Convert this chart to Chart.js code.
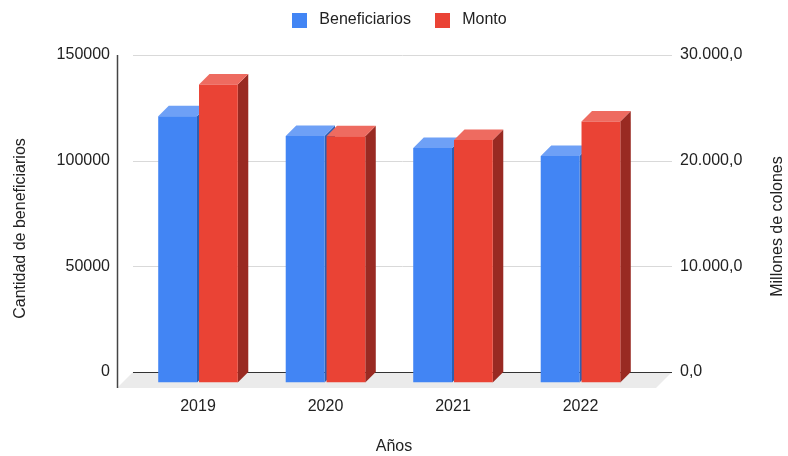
<!DOCTYPE html>
<html><head><meta charset="utf-8">
<script src="https://cdn.jsdelivr.net/npm/chart.js@4.4.1/dist/chart.umd.min.js"></script>
<style>html,body{margin:0;padding:0;background:#fff}#wrap{width:788px;height:456px;position:relative}</style>
</head><body><div id="wrap"><canvas id="c" width="788" height="456"></canvas></div>
<script>
// ---- data ----
const years = ['2019', '2020', '2021', '2022'];
const beneficiarios = [126000, 116600, 111000, 107200];
const monto = [28200, 23300, 22950, 24700];
const leftTicks = [0, 50000, 100000, 150000];
const rightTicks = [0, 10000, 20000, 30000];
const seriesNames = ['Beneficiarios', 'Monto'];
const xTitle = 'Años';
const leftTitle = 'Cantidad de beneficiarios';
const rightTitle = 'Millones de colones';

// ---- style ----
const FONT = 'Arial, "Liberation Sans", sans-serif';
const TXT = '#222222';
const frontColors = ['#4285f4', '#ea4335'];
const topColors = ['#6ea0f6', '#ee6b60'];
const sideColors = ['#2d5fb2', '#992a22'];
const DEPTH = 10.5, FLOOR = 16, WALL_L = 1.25, WALL_R = 27.75;
const LEGEND_PAD = 19.2;

function fmtES(v) {
  const s = Math.round(v).toString().replace(/\B(?=(\d{3})+(?!\d))/g, '.');
  return s + ',0';
}
function square(color) {
  const c = document.createElement('canvas');
  c.width = 15; c.height = 15;
  const g = c.getContext('2d');
  g.fillStyle = color; g.fillRect(0, 0, 15, 15);
  return c;
}
const legendSquares = frontColors.map(square);

Chart.defaults.font.family = FONT;
Chart.defaults.font.size = 16;
Chart.defaults.color = TXT;

function poly(ctx, pts) {
  ctx.beginPath();
  ctx.moveTo(pts[0][0], pts[0][1]);
  for (let i = 1; i < pts.length; i++) ctx.lineTo(pts[i][0], pts[i][1]);
  ctx.closePath();
  ctx.fill();
}
function hline(ctx, x0, x1, y, color, w) {
  ctx.strokeStyle = color; ctx.lineWidth = w;
  ctx.beginPath(); ctx.moveTo(x0, y); ctx.lineTo(x1, y); ctx.stroke();
}

const depthPlugin = {
  id: 'depth3d',
  afterLayout(chart) {
    const lg = chart.legend;
    const h = lg.bottom - lg.top;
    lg.top = 20 - LEGEND_PAD - 8; lg.bottom = lg.top + h;
    lg.left += 3; lg.right += 3;
  },
  beforeDatasetsDraw(chart) {
    const {ctx, chartArea: ca, scales} = chart;
    const ys = scales.y;
    const backL = ca.left - WALL_L, backR = ca.right + WALL_R;
    const zb = ys.getPixelForValue(0) - DEPTH;
    const topY = ys.getPixelForValue(ys.max) - DEPTH;
    ctx.save();
    leftTicks.forEach(v => {
      if (v === 0) return;
      const yy = Math.round(ys.getPixelForValue(v) - DEPTH) + 0.5;
      hline(ctx, backL, backR, yy, '#d9d9d9', 1);
    });
    ctx.fillStyle = '#ebebeb';
    poly(ctx, [[backL, zb], [backR, zb], [backR - FLOOR, zb + FLOOR], [backL - FLOOR, zb + FLOOR]]);
    hline(ctx, backL, backR, Math.round(zb) + 0.5, '#333333', 1.2);
    // left axis line
    ctx.strokeStyle = '#444444'; ctx.lineWidth = 1.5;
    ctx.beginPath();
    ctx.moveTo(backL - FLOOR + 0.5, topY); ctx.lineTo(backL - FLOOR + 0.5, zb + FLOOR);
    ctx.stroke();
    // side and top faces
    chart.data.datasets.forEach((ds, di) => {
      const meta = chart.getDatasetMeta(di);
      meta.data.forEach(el => {
        const {x, y, base, width} = el.getProps(['x', 'y', 'base', 'width'], true);
        const l = x - width / 2, r = x + width / 2;
        ctx.fillStyle = sideColors[di];
        poly(ctx, [[r, y], [r + DEPTH, y - DEPTH], [r + DEPTH, base - DEPTH], [r, base]]);
        ctx.fillStyle = topColors[di];
        poly(ctx, [[l, y], [l + DEPTH, y - DEPTH], [r + DEPTH, y - DEPTH], [r, y]]);
      });
    });
    ctx.restore();
  },
  afterDraw(chart) {
    const {ctx, chartArea: ca} = chart;
    ctx.save();
    ctx.fillStyle = TXT;
    ctx.font = '16px ' + FONT;
    ctx.textAlign = 'center';
    ctx.textBaseline = 'middle';
    const midY = (ca.top + ca.bottom) / 2;
    ctx.save(); ctx.translate(20.5, midY + 4.5); ctx.rotate(-Math.PI / 2); ctx.fillText(leftTitle, 0, 0); ctx.restore();
    ctx.save(); ctx.translate(777.5, midY + 2.5); ctx.rotate(-Math.PI / 2); ctx.fillText(rightTitle, 0, 0); ctx.restore();
    ctx.fillText(xTitle, chart.width / 2, 447);
    ctx.restore();
  }
};

new Chart(document.getElementById('c'), {
  type: 'bar',
  data: {
    labels: years,
    datasets: [
      {label: seriesNames[0], data: beneficiarios, backgroundColor: frontColors[0], yAxisID: 'y', categoryPercentage: 0.64, barPercentage: 0.95},
      {label: seriesNames[1], data: monto, backgroundColor: frontColors[1], yAxisID: 'y1', categoryPercentage: 0.64, barPercentage: 0.95}
    ]
  },
  options: {
    responsive: false,
    animation: false,
    layout: {padding: 0},
    plugins: {
      tooltip: {enabled: false},
      legend: {
        position: 'top',
        labels: {
          usePointStyle: true,
          pointStyleWidth: 24,
          padding: LEGEND_PAD,
          color: TXT,
          font: {size: 16},
          generateLabels: chart => chart.data.datasets.map((ds, i) => ({
            text: ds.label, fillStyle: ds.backgroundColor, strokeStyle: ds.backgroundColor,
            lineWidth: 0, pointStyle: legendSquares[i], hidden: false, datasetIndex: i, fontColor: TXT
          }))
        }
      }
    },
    scales: {
      x: {
        type: 'category', offset: true,
        grid: {display: false, drawTicks: false}, border: {display: false},
        ticks: {padding: 14, color: TXT, maxRotation: 0},
        afterFit: s => { s.height = 73.5; }
      },
      y: {
        position: 'left', min: 0, max: 150000,
        grid: {display: false, drawTicks: false}, border: {display: false},
        ticks: {padding: 24.25, labelOffset: -DEPTH, color: TXT, callback: v => String(v)},
        afterBuildTicks: s => { s.ticks = leftTicks.map(v => ({value: v})); },
        afterFit: s => { s.width = 134.25; s.paddingTop = 65.5; }
      },
      y1: {
        position: 'right', min: 0, max: 30000,
        grid: {display: false, drawTicks: false}, border: {display: false},
        ticks: {padding: 35.75, labelOffset: -DEPTH, color: TXT, callback: v => fmtES(v)},
        afterBuildTicks: s => { s.ticks = rightTicks.map(v => ({value: v})); },
        afterFit: s => { s.width = 143.75; }
      }
    }
  },
  plugins: [depthPlugin]
});
</script>
</body></html>
